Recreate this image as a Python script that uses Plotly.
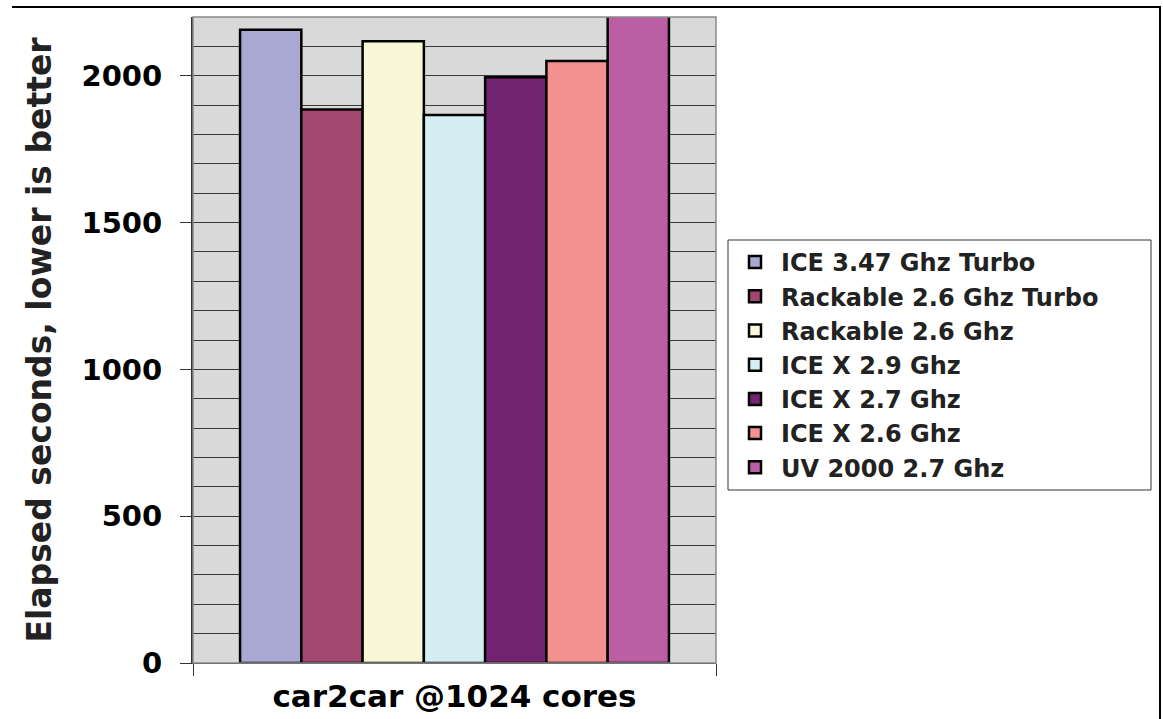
import plotly.graph_objects as go

category = ["car2car @1024 cores"]
series_names = [
    "ICE 3.47 Ghz Turbo",
    "Rackable 2.6 Ghz Turbo",
    "Rackable 2.6 Ghz",
    "ICE X 2.9 Ghz",
    "ICE X 2.7 Ghz",
    "ICE X 2.6 Ghz",
    "UV 2000 2.7 Ghz",
]
series_values = [2157, 1885, 2117, 1866, 1995, 2050, 2450]
series_colors = ["#A9A8D2", "#A2476F", "#F8F8D8", "#D5EEF3", "#722470", "#F39190", "#BB5EA4"]
y_ticks = [0, 500, 1000, 1500, 2000]

FONT = "DejaVu Sans"

fig = go.Figure()
for name, val, col in zip(series_names, series_values, series_colors):
    fig.add_trace(go.Bar(
        x=category, y=[val], name=name,
        marker=dict(color=col, line=dict(color="#000000", width=2.5)),
    ))

L, R, T, B = 193, 447, 17, 56
W, H = 1163, 719
pw, ph = W - L - R, H - T - B

def px_x(p):
    return (p - L) / pw

def px_y(p):
    return (H - B - p) / ph

fig.update_layout(
    width=W, height=H,
    margin=dict(l=L, r=R, t=T, b=B, pad=0, autoexpand=False),
    paper_bgcolor="white",
    plot_bgcolor="#D9D9D9",
    barmode="group",
    bargap=0.18,
    bargroupgap=0,
    font=dict(family=FONT, color="#000000"),
    showlegend=True,
    legend=dict(
        x=px_x(729), xanchor="left",
        y=px_y(365), yanchor="middle",
        borderwidth=0,
        bgcolor="rgba(0,0,0,0)",
        font=dict(family=FONT, size=24, color="#222222", weight="bold"),
        tracegroupgap=0,
        itemwidth=42,
    ),
    xaxis=dict(
        showgrid=False,
        ticks="outside", tickson="boundaries", ticklen=12, tickcolor="#333333",
        tickfont=dict(family=FONT, size=31, color="#000000", weight="bold"),
        ticklabelstandoff=6,
        showline=True, linecolor="#333333", linewidth=1,
        zeroline=False,
    ),
    yaxis=dict(
        range=[0, 2200],
        tickvals=y_ticks,
        ticks="outside", ticklen=11, tickcolor="#333333",
        tickfont=dict(family=FONT, size=29, color="#000000", weight="bold"),
        ticklabelstandoff=12,
        showgrid=True, gridcolor="#3a3a3a", gridwidth=1,
        minor=dict(dtick=100, showgrid=True, gridcolor="#3a3a3a", gridwidth=1),
        showline=True, linecolor="#333333", linewidth=2,
        zeroline=False,
        automargin=False,
        title=dict(text="Elapsed seconds, lower is better",
                   font=dict(family=FONT, size=33, color="#222222", weight="bold"),
                   standoff=20),
    ),
    shapes=[
        dict(type="rect", xref="paper", yref="paper", x0=0, x1=1, y0=0, y1=1,
             line=dict(color="#8a8a8a", width=1.5), layer="above"),
        dict(type="rect", xref="paper", yref="paper",
             x0=px_x(728), x1=px_x(1151), y0=px_y(490), y1=px_y(240),
             line=dict(color="#333333", width=1), fillcolor="white", layer="below"),
        dict(type="line", xref="paper", yref="paper",
             x0=px_x(12), x1=px_x(1161), y0=px_y(7), y1=px_y(7),
             line=dict(color="#000000", width=2)),
        dict(type="line", xref="paper", yref="paper",
             x0=px_x(1160), x1=px_x(1160), y0=px_y(7), y1=px_y(719),
             line=dict(color="#000000", width=2)),
    ],
)

fig.write_html(
    "out.html",
    config={"displayModeBar": False},
    post_script="document.body.style.margin='0';document.body.style.overflow='hidden';",
)
